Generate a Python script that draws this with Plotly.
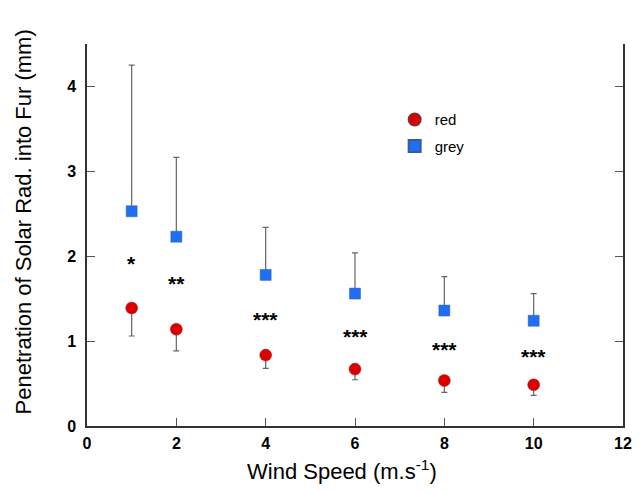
import plotly.graph_objects as go

wind = [1, 2, 4, 6, 8, 10]
red_mean = [1.39, 1.14, 0.835, 0.67, 0.535, 0.485]
red_err_minus = [0.33, 0.255, 0.155, 0.125, 0.14, 0.125]
grey_mean = [2.53, 2.23, 1.78, 1.56, 1.36, 1.24]
grey_err_plus = [1.72, 0.935, 0.56, 0.48, 0.40, 0.32]
stars = ["*", "**", "***", "***", "***", "***"]
star_y = [1.94, 1.70, 1.28, 1.075, 0.92, 0.84]
x_title = "Wind Speed (m.s<sup>-1</sup>)"
y_title = "Penetration of Solar Rad. into Fur (mm)"

font_family = "Liberation Sans, Arial, Helvetica, sans-serif"

fig = go.Figure()
fig.add_trace(go.Scatter(
    x=wind, y=grey_mean, mode="markers", name="grey", legendgroup="g",
    legendrank=2,
    marker=dict(symbol="square", size=11, color="#1f6ff5",
                line=dict(color="#3a5a9a", width=0.5)),
    error_y=dict(type="data", symmetric=False, array=grey_err_plus,
                 arrayminus=[0] * len(wind), color="#666666",
                 thickness=1.2, width=3),
))
fig.add_trace(go.Scatter(
    x=wind, y=red_mean, mode="markers", name="red", legendgroup="r",
    legendrank=1,
    marker=dict(symbol="circle", size=12, color="#dd0000",
                line=dict(color="#8a2a2a", width=0.5)),
    error_y=dict(type="data", symmetric=False, array=[0] * len(wind),
                 arrayminus=red_err_minus, color="#666666",
                 thickness=1.2, width=3),
))

for xv, yv, s in zip(wind, star_y, stars):
    fig.add_annotation(x=xv, y=yv, text=s, showarrow=False,
                       font=dict(family=font_family, size=21, color="black",
                                 weight="bold"),
                       xanchor="center", yanchor="middle", yshift=-2)

# axis titles as annotations for exact placement
fig.add_annotation(xref="paper", yref="paper", x=0.476, y=-0.115,
                   text=x_title, showarrow=False, xanchor="center",
                   yanchor="middle",
                   font=dict(family=font_family, size=22, color="black"))
fig.add_annotation(xref="paper", yref="paper", x=-0.118, y=0.535,
                   text=y_title, showarrow=False, textangle=-90,
                   xanchor="center", yanchor="middle",
                   font=dict(family=font_family, size=22, color="black"))

# page body has an 8px margin; compensate so the plot lands where the reference has it
fig.update_layout(
    width=636, height=485,
    margin=dict(l=79, r=21, t=36, b=67, autoexpand=False),
    paper_bgcolor="white", plot_bgcolor="white",
    showlegend=True,
    legend=dict(x=0.574, y=0.845, xanchor="left", yanchor="top",
                traceorder="grouped",
                font=dict(family=font_family, size=15, color="black"),
                bgcolor="rgba(0,0,0,0)", itemsizing="constant",
                tracegroupgap=4),
    font=dict(family=font_family, color="black"),
)

fig.update_xaxes(
    range=[0, 12], tickvals=[0, 2, 4, 6, 8, 10, 12],
    showgrid=False, zeroline=False,
    showline=True, linecolor="#333333", linewidth=1.5,
    ticks="inside", ticklen=8, tickcolor="#555555", tickwidth=1,
    tickfont=dict(family=font_family, size=16, weight="bold", color="black"),
    ticklabelstandoff=2,
)
fig.update_yaxes(
    range=[0, 4.5], tickvals=[0, 1, 2, 3, 4],
    showgrid=False, zeroline=False,
    showline=True, linecolor="#333333", linewidth=1.5, mirror="ticks",
    ticks="inside", ticklen=8, tickcolor="#555555", tickwidth=1,
    tickfont=dict(family=font_family, size=16, weight="bold", color="black"),
    ticklabelstandoff=6,
)

fig.write_html("out.html")
